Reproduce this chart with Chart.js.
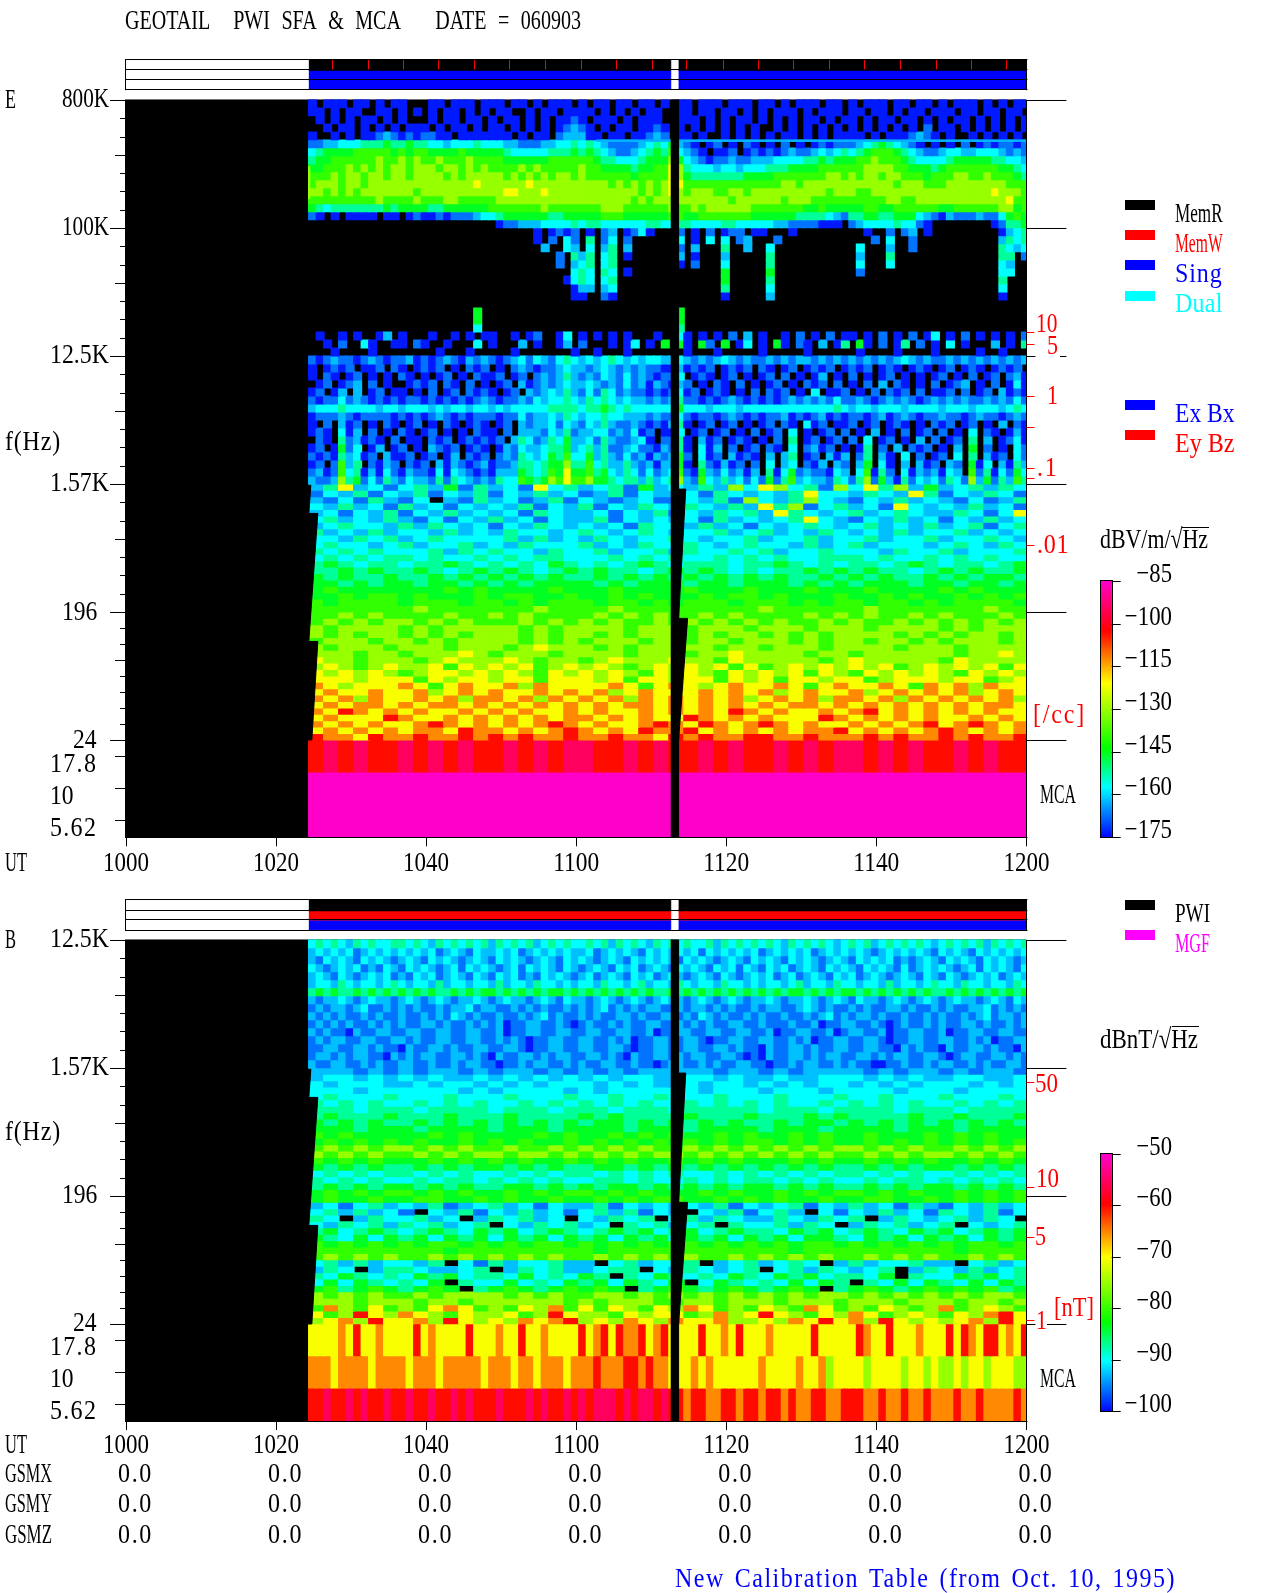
<!DOCTYPE html>
<html><head><meta charset="utf-8"><title>GEOTAIL PWI SFA & MCA</title>
<script src="https://cdn.jsdelivr.net/npm/chart.js@4/dist/chart.umd.min.js"></script>
<style>html,body{margin:0;padding:0;background:#fff}canvas{position:absolute;display:block}</style></head><body>
<canvas id="pe" style="left:0;top:0;width:1280px;height:890px"></canvas>
<canvas id="pb" style="left:0;top:890px;width:1280px;height:703px"></canvas>
<canvas id="ce" style="left:1095px;top:560px;width:140px;height:290px"></canvas>
<canvas id="cb" style="left:1095px;top:1130px;width:140px;height:290px"></canvas>
<script>
// ---------- axis values ----------
const timeTickValues=[0,20,40,60,80,100,120];
const timeTickLabels=['1000','1020','1040','1100','1120','1140','1200'];
const yTickValuesE=[5,4,3,2,1,0,-0.125,-0.375,-0.625];
const yTickLabelsE=['800K','100K','12.5K','1.57K','196','24','17.8','10','5.62'];
const yTickValuesB=[3,2,1,0,-0.125,-0.375,-0.625];
const yTickLabelsB=['12.5K','1.57K','196','24','17.8','10','5.62'];
const colorTicksE=[-85,-100,-115,-130,-145,-160,-175];
const colorTicksB=[-50,-60,-70,-80,-90,-100];
const gsmValues=['0.0','0.0','0.0','0.0','0.0','0.0','0.0'];
const dataSpans=[[24.37,72.6],[73.65,120]];
const stripMarksE=[27.4,32.2,36.9,41.6,46.4,51.1,55.8,60.6,65.3,70.1,74.7,79.5,84.2,88.9,93.7,98.4,103.1,107.9,112.6,117.3];
const stripColorsE=['#000000','#0000ff','#0000ff'];
const stripColorsB=['#000000','#ff0000','#0000ff'];
const sweepMaskLeft=[[24,1.99],[24.64,1.99],[24.37,1.77],[25.57,1.77],[24.37,0.77],[25.57,0.77],[24.77,0],[24,0]];
const sweepMaskRight=[[73.6,1.96],[74.6,1.96],[73.65,0.95],[74.85,0.95],[73.65,0],[73.6,0]];

// ---------- spectrogram levels (one char per cell, 0 = no signal, d = top of colour bar) ----------
const eUpperRows=[
"101110110101 100011011101 110110101110 101101101101 011011101110 110101110110 101110110110 101110101011",
"110101100110 101010110101 011001011011 110101010110 011011011010 101110101110 110110101101 110110110110",
"010101011010 100010110110 101101010112 101110101110 011101010110 101010110101 101011011010 101101010101",
"001011010101 011101011010 110101010123 210101101121 010101010101 001010101010 101010101020 110101010101",
"100101011232 121221101111 111010110233 311011011232 011010010101 010110101011 110101112321 010010101010",
"223344455565 565544344454 443322233445 454322223454 632101201021 010201012122 234565432101 010201212212",
"456666777776 767766667666 665444445556 565432234565 743210112012 121232234345 456777654322 344334443232",
"566777777877 878778777877 776666667777 776554445666 864321223223 334444556566 677877765444 456666655443",
"667778787878 878887887878 777787877777 877666656677 985444344344 455566667777 778888776665 677777776654",
"777878878878 878888787888 887878787887 877777767777 986555555566 667777777887 878878877767 778877877765",
"788878878888 888888888898 888889888888 888878787878 997777777777 777887888888 888888788877 788888888777",
"887878788888 887888888888 889988898888 888888887878 987888778878 888888888788 877888888888 888888898887",
"777777777877 778777887777 788888888888 888888878788 888888887888 888788877777 777778877888 888888888977",
"654555555565 666655666666 777777787777 777888777777 877878888887 777777667666 667766777777 667777778867",
"210101111011 012112122234 456666665566 666777666666 776677777776 666665555432 556655666432 132223224676",
"000000000000 000000000000 012233344445 455444444554 455444455444 443322221110 234444544210 000000012556",
"000000000000 000000000000 000000101212 010230124100 020102012201 100010000000 001002023010 000000001345",
"000000000000 000000000000 000000102042 050240200000 040104040230 002000000000 000204002000 000000003545",
"000000000000 000000000000 000000030043 040350300000 020300050030 040000000000 040003002000 000000005434",
"000000000000 000000000000 000000000205 350450100000 030100030000 050000000000 030005000000 000000005502",
"000000000000 000000000000 000000000203 450450000000 010200040000 050000000000 040004000000 000000004300",
"000000000000 000000000000 000000000004 540540100000 000000060000 060000000000 020000000000 000000004400",
"000000000000 000000000000 000000000014 540450000000 000000060000 050000000000 000000000000 000000005000",
"000000000000 000000000000 000000000001 330340000000 000000050000 040000000000 000000000000 000000004000",
"000000000000 000000000000 000000000001 100210000000 000000010000 030000000000 000000000000 000000001000",
"000000000000 000000000000 000000000000 000000000000 000000000000 000000000000 000000000000 000000000000",
"000000000000 000000000060 000000000000 000000000000 060000000000 000000000000 000000000000 000000000000",
"000000000000 000000000060 000000000000 000000000000 060000000000 000000000000 000000000000 000000000000",
"000000000000 000000000040 000000000000 000000000000 050000000000 000000000000 000000000000 000000000000",
"010010100130 100010010101 100101200140 101010100010 041010102030 100102010201 101020102014 010201010102",
"001020041001 102100100040 100030100130 200010140106 061062060140 106102103015 061020150201 040100030105",
"000100001000 000001000100 000100000001 001000100000 001000100000 100000100000 010000100001 000001001000"];
const eMiddleRows=[
"212322123212 231212321323 212342432454 343454343443 343232343232 232323323232 323232343232 232323232323",
"101212011202 101212010212 010232122343 323432323221 131212012120 210120121201 212012101210 120121012120",
"102101201010 210101201021 120120232353 232432423212 240121012010 120201013010 201012010101 201020120231",
"012012302010 012120210201 012031232343 343232423132 132010210201 012010212020 102030210102 012301020141",
"120130301201 101020120212 101203234353 242542322121 241201210102 021201040112 010202120201 120201203121",
"212242321212 122121212123 212232434454 354543433232 352212123212 121232323242 232123232123 232322323242",
"344454444344 344434344344 343444445555 455654544444 464443444344 444444444454 344344434444 344434443454",
"122232122221 212123212122 212242334354 344544333232 242122123212 122312123121 221231232122 322123221232",
"102031201021 012010210121 012032334243 243532232121 351012012010 120210412011 201201210102 120120103021",
"121041302010 210120101021 102033324352 334423241201 140120120102 012040101202 010301020120 201040210131",
"021052312102 011021201212 120354235463 342532234102 251031201210 102050120120 204012010302 012050301241",
"120162401301 201032120121 013243345563 453522342213 251041302012 021040231201 015020302120 103060201042",
"212153412031 120120130212 023254346574 463532423132 362041203121 030350120313 025031040201 204050312042",
"120273502132 021203132123 122355456685 574533532313 361052131202 040340213032 036041030312 032061403153",
"231274513142 132214143212 133365457696 675643542423 472163242313 051462322143 047152041323 143072514264",
"322385624253 243325254323 254476568797 786654553534 583274353424 262573433254 258263152434 254283625375"];
const eLowRows=[
"359342 453625 342945 345263 435384 984528 495836 345354",
"243524 352435 243534 235243 342543 435944 354395 243542",
"324253 240325 342352 432342 243528 435843 243534 324235",
"435342 534243 435243 524354 354353 958245 342943 435342",
"342435 243534 342543 342435 243545 395434 534543 354249",
"453435 324243 534243 352434 342534 345943 243534 243534",
"345443 535434 243543 434254 435342 434543 453435 345245",
"534353 443534 354434 543454 344534 534354 343534 453434",
"443545 345444 453534 354344 543445 344534 453445 344543",
"454434 534453 435444 534354 454345 443534 534443 454354",
"545454 445354 544354 453445 354454 534454 443544 534445",
"454545 545445 454554 445454 544545 454455 545445 454544",
"565455 455654 545465 454565 455545 565454 554565 455456",
"556565 565456 565456 565545 656545 455656 565545 656556",
"656556 556565 656565 565656 565656 565565 656556 565665",
"665656 656656 565666 656566 656656 665656 566656 656656",
"676666 666767 666676 667666 676667 666766 676666 767666",
"667677 676667 677667 667676 667677 676667 667676 676767",
"767777 677767 767677 767767 677767 776767 767767 677776",
"777777 787777 777877 778777 777777 877777 787777 777877",
"778787 777877 878777 787878 778787 777878 787787 877787",
"787878 878787 778787 878778 787878 787787 877878 787878",
"878888 787888 887878 888788 878887 888788 878888 787888",
"878788 787878 887878 878788 878788 787878 888787 878878",
"788878 878788 887878 788878 878878 887878 878878 788878",
"878887 888788 878988 878788 888788 788878 888788 878888",
"888788 788898 788878 888788 878898 888788 788888 878898",
"988788 878988 898788 789888 988798 888878 988888 798888",
"898789 889798 989789 898789 898979 789898 989789 898979",
"989898 789989 898798 989879 898798 989798 798989 879898",
"999899 979899 899799 989799 899798 979989 978999 899789",
"a98999 a979a9 9a8a99 99a979 a989a9 9a979a 99a97a 9a8a99",
"9a99a9 9a89a9 a99a9a 9a89a9 99a9a9 a89a99 a89a9a 9a89a9",
"a9a8a9 9a9a8a a9a8a9 a9a8a9 a9a9a8 9a9a8a a9a8a9 a9a9a8",
"9a9aa9 a9aa9a 9a9a9a 9a9aa9 a9a9a9 a9aa9a 9a9a9a 9a9aa9",
"a9ba9a 9a99a9 a9a99a 9a99a9 a9a9ba 9a99a9 ab9a9a 9a9a99",
"9a999b a99a9a 9a9a9a a9a9a9 9ba9a9 a999ba 9a9a9a 99a9a9",
"a9a9a9 9aba9a 9a9aba 9a99ab a9ba9a ba9a99 a9a9ab 9aba9a",
"9a9a9a 9aa9ba a9a9ab a9a9ba ab9a9a 9a9aab 9a9a9a ba9a9a",
"baa9ba abaaba babaab aabaa9 babaab baabaa ababaa babaab"];
const eMcaRows=[
"bcbcbb cbcbcb bcbcbc cbbcbc bbcbcb bcbcbc cbcbcb bcbcbb",
"dddddd dddddd dddddd dddddd dddddd dddddd dddddd dddddd",
"dddddd dddddd dddddd dddddd dddddd dddddd dddddd dddddd"];
const bUpperRows=[
"454543545445 545435454545 354545345454 454535454354 545445354545 454354545434 545345454543 454545354545",
"343434234343 434342343243 343423434343 342343432434 343424343434 234343423434 343234343432 434324343434",
"324343243432 343243432343 243432343243 432343243434 324343234324 343243432343 243434232343 243432434323",
"432343423243 243432342434 323424343243 234324342343 243432434243 243423432434 324343242343 432342434324",
"343243234342 324342343243 243423243432 342343243423 432343243234 342342343243 423432343243 243234342343",
"344354344345 434435344344 353443544343 443544345344 354344354434 344345344354 434435344345 443544344354",
"565655656565 656565565656 656565656656 565656565655 656565656565 656566565656 656565656565 565656565656",
"323343234332 343234323343 234332343243 323432343234 332343234323 343233432343 243323432343 234332343243",
"232332342232 323223233423 322323232232 323423232332 232332323223 233223432322 323223323223 232233423232",
"323232232322 322323243232 232232342322 323223323223 323243232232 322322323423 233232232232 322323423323",
"232323223232 322332322323 231223322321 232232322332 232323223322 322232231223 322321232232 322332322323",
"323221322332 233223322332 231223322332 233223322312 233223322332 231223322312 332231223322 312233223322",
"232332233223 323223322332 232321223322 332232312233 223321223322 332232312233 223321223322 332232312233",
"223322332322 132233232233 223321223322 332233212233 223322332322 132233232233 223322132322 132233232213",
"233232332213 232332233232 132233232332 233232132233 232332233212 132233232332 233232332233 212332233232",
"322332232322 332232232332 212232332232 322332232212 332232322332 212232332232 322112232232 332232322332"];
const bLowRows=[
"333232 323323 233232 323233 333233 232333 323233 232332",
"344343 434334 343434 343443 344343 343344 434343 344334",
"434443 343443 434344 434343 343443 434344 343434 443434",
"444344 444434 344443 434444 443444 344434 444344 434444",
"454445 444544 454445 445445 444544 454445 445444 544454",
"545454 454545 445454 545454 454545 454454 545454 454545",
"555455 545555 455545 554555 455555 455545 555455 545555",
"565556 555655 565555 656555 565556 555656 555565 565556",
"656565 565656 565656 566565 656565 565665 656565 656565",
"666566 656666 566656 666566 656666 566656 666566 656666",
"767666 667676 666767 667676 766767 667676 676667 676766",
"676767 676676 767667 676767 676767 767676 676767 676767",
"787878 878787 787787 878787 787878 787878 878787 787878",
"878787 787878 878878 787878 878787 878787 787878 878787",
"767676 667676 767667 676766 767676 667676 676767 667676",
"656565 565656 656565 566565 656565 656565 565656 656565",
"454545 545454 454545 545454 544545 454545 545454 454545",
"545454 454554 545454 455454 454545 545454 454554 545454",
"565656 656565 566565 656656 565656 656565 565656 656565",
"676767 767676 676767 767676 667676 676767 767676 676767",
"676676 677667 676676 676767 766767 676676 677667 676767",
"342453 435234 534243 352434 343524 345243 534253 243534",
"453534 204352 435342 453524 304352 453042 435342 543524",
"540354 453403 545340 435450 453543 354354 503543 453540",
"435453 545345 043545 340545 345054 453540 354534 504345",
"564565 456546 564565 456564 564565 546564 565465 645656",
"654646 564656 465646 564656 465646 564665 465646 564656",
"767676 767767 676776 767676 776767 676776 767676 767767",
"777777 777677 777777 767777 777777 776777 777777 767777",
"787878 778787 878787 787878 787787 878787 787878 778787",
"453534 435042 534453 304534 450345 345403 534453 304534",
"354035 543345 035453 345504 354345 045354 345035 435345",
"546545 465645 546454 650546 545465 465645 546054 465645",
"464654 546054 464546 564654 604654 546465 054646 546465",
"675676 567605 676567 676056 765676 567605 676567 676756",
"878787 787888 878787 788787 878787 878788 787878 787887",
"888788 878878 888887 878887 788788 878887 888788 878878",
"7a8797 879a97 8798a7 979879 8a9787 987a97 879878 a78987",
"978b98 a98798 8978b9 887989 978a89 b98798 a97898 798ab9",
"89a8b9 9a8b98 98a9ab 898a98 a99a88 98a9b9 a8b989 89a8b9"];
const bMcaRows=[
"9999a9b99a99 99b9a9999b99 9a99b99a9999 b9ab9baab9ab 9999b99a9b99 9a99999b9999 9ba99b999a99 9b9ba9bb9a9b",
"aaa9aaaa9aaa a9aaa9aaaaa9 aaa9aa9aaa9a aabaaabbabaa 999a9a999999 a9999a99a899 998999989989 889899899988",
"bbcbbcbcbbcb bcbbcbbcbcbb bcbbbcbcbbcb cbcccbcbccbc bbabbaabbabb abbabaabbaab bbaabaabaaba aabaabaaaaba"];

// ---------- colour map ----------
const colorStops=[[0,0,0,255],[.2,0,255,255],[.35,0,255,0],[.605,255,255,0],[.81,255,0,0],[1,255,0,200]];
const levelPosition={1:.02,2:.09,3:.15,4:.2,5:.26,6:.33,7:.4,8:.5,9:.6,a:.7,b:.8,c:.9,d:1};
function colorAt(t){t=Math.max(0,Math.min(1,t));
  for(let i=1;i<colorStops.length;i++){const a=colorStops[i-1],b=colorStops[i];
    if(t<=b[0]){const f=(t-a[0])/(b[0]-a[0]);return `rgb(${[1,2,3].map(k=>Math.round(a[k]+(b[k]-a[k])*f)).join(',')})`;}}
  return 'rgb(255,0,200)';}

// ---------- layout ----------
const ADV=11.8, SX=0.857, FONT='28px "Liberation Serif"';
const RED='#ff0000',BLUE='#0000ff',CYAN='#00ffff',MAG='#ff00ff',BLK='#000000';
const PX_PER_MIN=7.503;
function text(ctx,s,x,cy,color,width,wordGap){
  ctx.save();ctx.font=FONT;ctx.fillStyle=color;ctx.textBaseline='alphabetic';ctx.textAlign='left';
  ctx.letterSpacing='0px';ctx.wordSpacing=(wordGap||0)+'px';
  const w=width||s.length*ADV, natural=ctx.measureText(s).width;
  let sx=SX, ls=0;
  if(natural*SX>w){sx=w/natural;}else{ls=(w/SX-natural)/s.length;}
  ctx.letterSpacing=ls.toFixed(3)+'px';
  ctx.translate(x,cy+9.5);ctx.scale(sx,1);ctx.fillText(s,0,0);ctx.restore();
}
function hline(ctx,x0,x1,y,c){ctx.fillStyle=c;ctx.fillRect(x0,Math.round(y),x1-x0,1);}
function vline(ctx,x,y0,y1,c){ctx.fillStyle=c;ctx.fillRect(Math.round(x),y0,1,y1-y0);}

function rowsToDatasets(rows,uTop,uStep,colStep,order){
  const cols=rows.map(r=>r.replace(/ /g,''));
  return cols.map((r,k)=>{
    const pts=[],bg=[];
    const hi=Array.isArray(uStep)?uStep[k]:uTop-uStep*k, lo=Array.isArray(uStep)?uStep[k+1]:uTop-uStep*(k+1);
    for(let i=0;i<r.length;i++){const c=r[i];if(c==='0')continue;
      pts.push({x:dataSpans[0][0]+colStep*(i+.5),y:[lo,hi]});bg.push(colorAt(levelPosition[c]));}
    return {type:'bar',data:pts,backgroundColor:bg,borderWidth:0,grouped:false,inflateAmount:0.4,
      barThickness:colStep*PX_PER_MIN+0.8,order};
  });
}
function poly(points,color,order){
  return {type:'scatter',showLine:true,data:points.map(p=>({x:p[0],y:p[1]})),backgroundColor:color,borderColor:color,
    borderWidth:1,pointRadius:0,pointHoverRadius:0,fill:'shape',tension:0,order};
}
function rect(x0,x1,y0,y1,color,order){return poly([[x0,y0],[x1,y0],[x1,y1],[x0,y1]],color,order);}
function stripDatasets(bands,colors){
  const out=[];colors.forEach((c,i)=>dataSpans.forEach(s=>out.push(rect(s[0],s[1],bands[i+1]-(i<2?.008:0),bands[i],c,1))));return out;
}
function minorTicks(topUnit){
  const t=[];for(let k=0;k<topUnit;k++){const n=k===0?8:7;for(let j=1;j<n;j++)t.push({value:k+1-j/n,mid:j===3});}
  return t;
}
function panel(cfg){
  const labelLeft={'800K':62,'100K':62,'12.5K':50,'1.57K':50,'196':62,'24':73,'17.8':50,'10':50,'5.62':50};
  const sets=[
    rect(-0.13,120,cfg.yMin,cfg.plotTop,BLK,9),
    ...cfg.grids,
    ...stripDatasets(cfg.stripBands,cfg.stripColors),
    rect(dataSpans[0][1],dataSpans[1][0],cfg.yMin,cfg.plotTop,BLK,2),
    poly(sweepMaskLeft,BLK,2),poly(sweepMaskRight,BLK,2),
    ...(cfg.extra||[])
  ];
  const overlay={id:'overlay',afterDraw(chart){
    const ctx=chart.ctx,xs=chart.scales.x,ys=chart.scales.y,off=cfg.top;
    ctx.save();ctx.translate(0,-off);
    const py=u=>ys.getPixelForValue(u)+off, L=125,R=xs.getPixelForValue(120);
    // strip frame
    const st=py(cfg.stripBands[0]),sb=py(cfg.stripBands[3]);
    cfg.stripBands.forEach(u=>hline(ctx,L,R+1,py(u),BLK));
    vline(ctx,L,st,sb+1,BLK);vline(ctx,R,st,sb+1,BLK);
    (cfg.stripMarks||[]).forEach(m=>vline(ctx,xs.getPixelForValue(m),st+1,py(cfg.stripBands[1]),RED));
    // frame
    const pt=py(cfg.plotTop),pb=py(cfg.yMin);
    vline(ctx,R,pt,pb+1,BLK);hline(ctx,L,R+1,pb,BLK);
    // y ticks and their labels, from the library's scale
    ys.ticks.forEach(t=>{const y=py(t.value);
      if(t.label){const len=t.value>=0?15:10;hline(ctx,L-len,L,y,BLK);
        text(ctx,t.label,labelLeft[t.label],t.value>=0?y-2:y+6,BLK);}
      else hline(ctx,L-(t.mid?10:5),L,y,BLK);});
    // x ticks and labels
    xs.ticks.forEach(t=>{const x=xs.getPixelForValue(t.value);vline(ctx,x,pb,pb+9,BLK);
      text(ctx,t.label,x-23,cfg.xLabelY,BLK,46);});
    // long ticks on the right
    cfg.rightTicks.forEach(r=>{if(r.gap){hline(ctx,R,R+9,py(r.u),BLK);hline(ctx,r.gap,R+40,py(r.u),BLK);}else hline(ctx,R,R+40,py(r.u),BLK);});
    cfg.redTicks.forEach(u=>hline(ctx,R,R+8,py(u),RED));
    cfg.draw(ctx,xs);
    ctx.restore();
  }};
  return new Chart(document.getElementById(cfg.id),{type:'bar',data:{datasets:sets},plugins:[overlay],options:{
    responsive:false,animation:false,devicePixelRatio:1,events:[],
    layout:{padding:{left:125,right:1280-1026.4,top:cfg.padTop,bottom:cfg.padBottom}},
    plugins:{legend:{display:false},tooltip:{enabled:false},title:{display:false}},
    scales:{
      x:{type:'linear',display:false,min:-0.13,max:120,offset:false,ticks:{autoSkip:false,callback:v=>{const i=timeTickValues.indexOf(v);return i<0?'':timeTickLabels[i];}},
        afterBuildTicks:s=>{s.ticks=timeTickValues.map(v=>({value:v}));}},
      y:{type:'linear',display:false,min:cfg.yMin,max:cfg.yMax,ticks:{autoSkip:false,callback:v=>{const i=cfg.tickValues.indexOf(v);return i<0?'':cfg.tickLabels[i];}},
        afterBuildTicks:s=>{const m=minorTicks(cfg.topUnit);s.ticks=[...cfg.tickValues.map(v=>({value:v})),...m];}}
    }}});
}
function colorBar(id,minV,maxV,ticks,padTop,padBottom){
  const vals=[];for(let v=minV;v<=maxV;v+=(maxV-minV)/128)vals.push(v);
  const overlay={id:'cbo',afterDraw(chart){const ctx=chart.ctx,a=chart.chartArea,ys=chart.scales.y;
    ctx.save();ctx.strokeStyle=BLK;ctx.lineWidth=1;
    ctx.strokeRect(Math.round(a.left)-.5,Math.round(a.top)-.5,Math.round(a.right-a.left)+1,Math.round(a.bottom-a.top)+1);
    ys.ticks.forEach(t=>{const y=ys.getPixelForValue(t.value);hline(ctx,a.right,a.right+9,y,BLK);
      const s=String(t.label);text(ctx,s,1172-1095-s.length*ADV,y-8.5,BLK);});
    ctx.restore();}};
  return new Chart(document.getElementById(id),{type:'bar',plugins:[overlay],
    data:{datasets:[{data:vals.map(v=>({x:1,y:v})),backgroundColor:vals.map(v=>colorAt((v-minV)/(maxV-minV))),barThickness:4,borderWidth:0}]},
    options:{indexAxis:'y',responsive:false,animation:false,devicePixelRatio:1,events:[],
      layout:{padding:{left:5.7,right:123.3,top:padTop,bottom:padBottom}},
      plugins:{legend:{display:false},tooltip:{enabled:false}},
      scales:{x:{type:'linear',display:false,min:0,max:1},
        y:{type:'linear',display:false,offset:false,min:minV,max:maxV,ticks:{autoSkip:false,callback:v=>(ticks.includes(v)?'\u2212'+Math.abs(v):'')},
           afterBuildTicks:s=>{s.ticks=ticks.map(v=>({value:v}));}}}}});
}
function setup(id,w,h){const c=document.getElementById(id);c.width=w;c.height=h;}
setup('pe',1280,890);setup('pb',1280,703);setup('ce',140,290);setup('cb',140,290);

panel({id:'pe',top:0,padTop:59,padBottom:890-837.3,yMin:-0.76,yMax:5.32,plotTop:5,topUnit:5,
  tickValues:yTickValuesE,tickLabels:yTickLabelsE,xLabelY:861,
  stripBands:[5.32,5.24,5.162,5.084],stripColors:stripColorsE,stripMarks:stripMarksE,
  rightTicks:[{u:5},{u:4},{u:3,gap:1060},{u:2},{u:1},{u:0}],
  redTicks:[3.1875,3.094,2.6875,2.445,2.125,2.047,1.523],
  grids:[...rowsToDatasets(eUpperRows,5,1/16,1,5),...rowsToDatasets(eMiddleRows,3,1/16,1,5),
         ...rowsToDatasets(eLowRows,2,.05,2,5),...rowsToDatasets(eMcaRows,0,[0,-.25,-.5,-.76],2,5)],
  extra:[rect(24.27,24.5,4.23,4.48,'#a0ff00',2),
         rect(62.7,72.6,4.676,4.688,'#00b4ff',2),rect(73.65,120,4.676,4.688,'#00b4ff',2)],
  draw(ctx){
    text(ctx,'GEOTAIL  PWI SFA & MCA   DATE = 060903',125,19.5,BLK,456,9);
    text(ctx,'E',5,98,BLK,11);
    text(ctx,'f(Hz)',5,440,BLK,56);
    text(ctx,'UT',5,861,BLK,22);
    [['MemR',BLK,205,212],['MemW',RED,235,242],['Sing',BLUE,265,272],['Dual',CYAN,296,302],['Ex Bx',BLUE,405,412],['Ey Bz',RED,435,442]]
      .forEach(l=>{ctx.fillStyle=l[1];ctx.fillRect(1125,l[2]-5,30,10);text(ctx,l[0],1175,l[3],l[1],l[0].length*11.9);});
    [['10',1036,322],['5',1047,344],['1',1047,394],['.1',1037,466],['.01',1037,543]].forEach(l=>text(ctx,l[0],l[1],l[2],RED,l[0].length===1?11:(l[0].length*10.7)));
    text(ctx,'[/cc]',1033,713,RED,53);
    text(ctx,'MCA',1040,793,BLK,36);
    text(ctx,'dBV/m/\u221AHz',1100,538,BLK,108);
    hline(ctx,1182,1209,527,BLK);
  }});
panel({id:'pb',top:890,padTop:9,padBottom:703-531,yMin:-0.758,yMax:3.32,plotTop:3,topUnit:3,
  tickValues:yTickValuesB,tickLabels:yTickLabelsB,xLabelY:1443,
  stripBands:[3.32,3.236,3.164,3.08],stripColors:stripColorsB,
  rightTicks:[{u:3},{u:2},{u:1},{u:0,gap:1047}],
  redTicks:[1.89,1.07,.68,.03],
  grids:[...rowsToDatasets(bUpperRows,3,1/16,1,5),...rowsToDatasets(bLowRows,2,.05,2,5),
         ...rowsToDatasets(bMcaRows,0,[0,-.25,-.5,-.758],1,5)],
  draw(ctx,xs){
    text(ctx,'B',5,938,BLK,11);
    text(ctx,'f(Hz)',5,1130,BLK,56);
    text(ctx,'UT',5,1443,BLK,22);
    [['GSMX',1472],['GSMY',1502],['GSMZ',1533]].forEach(r=>{text(ctx,r[0],5,r[1],BLK,47);
      timeTickValues.forEach((v,i)=>text(ctx,gsmValues[i],xs.getPixelForValue(v)-8,r[1],BLK,35));});
    [['PWI',BLK,905,912],['MGF',MAG,935,942]].forEach(l=>{ctx.fillStyle=l[1];ctx.fillRect(1125,l[2]-5,30,10);text(ctx,l[0],1175,l[3],l[1],35);});
    [['50',1035,1082],['10',1036,1177],['5',1035,1235],['1',1036,1319]].forEach(l=>text(ctx,l[0],l[1],l[2],RED,l[0].length===1?11:23));
    text(ctx,'[nT]',1054,1306,RED,40);
    text(ctx,'MCA',1040,1377,BLK,36);
    text(ctx,'dBnT/\u221AHz',1100,1038,BLK,98);
    hline(ctx,1172,1199,1026,BLK);
    text(ctx,'New Calibration Table (from Oct. 10, 1995)',675,1577,BLUE,501,3);
  }});
colorBar('ce',-175,-85,colorTicksE,21,13);
colorBar('cb',-100,-50,colorTicksB,24,9);
</script></body></html>
